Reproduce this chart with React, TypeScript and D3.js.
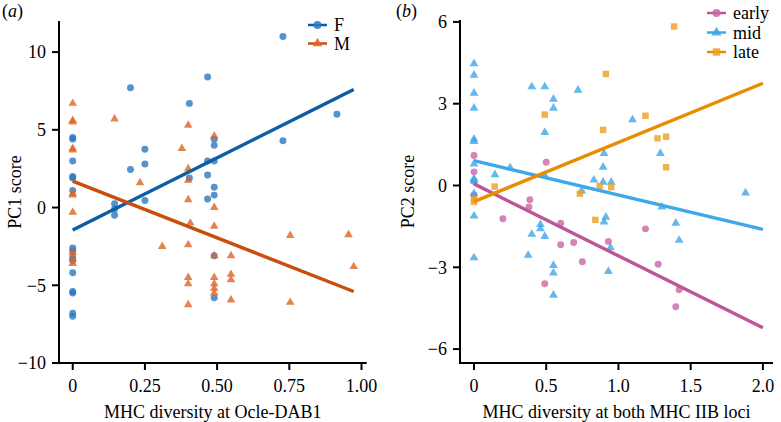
import React from "react";
import * as d3 from "d3";

// ---------- Panel (a) data ----------
const aGroups = ["F", "M"];
const aFx = [0,0,0,0,0,0,0,0,0,0,0,0,0,0,0, 0.145,0.145,0.145, 0.2,0.2, 0.25,0.25,0.25, 0.404,0.404, 0.467,0.467,0.467,0.467, 0.49,0.49,0.49,0.49,0.49,0.49,0.49, 0.728,0.728, 0.915];
const aFy = [4.5,4.4,3.0,2.0,1.9,1.1,-2.6,-2.8,-3.2,-3.4,-4.2,-5.4,-5.5,-6.8,-7.0, 0.25,-0.1,-0.5, 7.7,2.45, 3.75,2.8,0.45, 6.7,1.9, 8.4,3.0,2.1,0.55, 4.4,4.0,3.0,1.3,0.8,-3.1,-5.8, 11.0,4.3, 6.0];
const aMx = [0,0,0,0,0,0,0,0,0,0,0, 0.145, 0.233, 0.31, 0.378, 0.4,0.4,0.4,0.4,0.4,0.4,0.4,0.4, 0.407, 0.49,0.49,0.49,0.49,0.49,0.49,0.49,0.49, 0.548,0.548,0.548,0.548, 0.753,0.753, 0.955, 0.973];
const aMy = [6.7,5.6,5.5,3.8,3.7,0.9,0.8,-0.3,-2.9,-3.3,-3.6, 5.7, 1.6, -2.5, 3.8, 5.3,2.5,1.75,0.5,-2.4,-4.5,-4.9,-6.25, -1.0, 4.6,0.0,-1.2,-3.1,-4.5,-4.9,-5.2,-5.5, -3.1,-4.3,-4.65,-5.95, -1.8,-6.1, -1.75, -3.8];
const aFitIntercept = [-1.45, 1.7];
const aFitSlope = [9.3, -7.3];
const aFitRange = [0, 0.973];
const aXTicks = [0, 0.25, 0.5, 0.75, 1.0];
const aXTickLabels = ["0", "0.25", "0.50", "0.75", "1.00"];
const aYTicks = [-10, -5, 0, 5, 10];

// ---------- Panel (b) data ----------
const bGroups = ["early", "mid", "late"];
const bEarlyX = [0,0,0,0, 0.2, 0.387, 0.38, 0.5, 0.6, 0.6, 0.69, 0.75, 0.49, 1.187, 0.93, 1.275, 1.42, 1.397];
const bEarlyY = [1.1,0.5,0.15,-0.35, -1.22, -0.52, -0.79, 0.85, -1.38, -2.17, -2.09, -2.8, -3.6, -1.59, -2.05, -2.89, -3.82, -4.45];
const bMidX = [0,0,0,0,0,0,0,0,0,0,0,0, 0.145, 0.25, 0.4, 0.49, 0.55, 0.55, 0.49, 0.72, 0.49, 0.46, 0.46, 0.4, 0.49, 0.375, 0.55, 0.55, 0.55, 0.745, 1.097, 0.9, 1.29, 0.894, 0.83, 0.894, 0.95, 1.3, 0.913, 0.9, 1.397, 1.42, 0.945, 0.93, 1.88];
const bMidY = [4.47,4.05,3.39,2.84,1.7,1.62,0.79,0.25,0.18,-0.3,-1.12,-2.65, 0.4, 0.65, 3.62, 3.62, 3.17, 2.84, 1.95, 3.5, 0.37, -1.43, -1.58, -1.79, -1.87, -2.56, -2.93, -3.21, -4.02, -0.2, 2.41, 1.18, 1.18, 0.67, 0.2, 0.12, 0.12, -0.79, -1.16, -1.34, -1.38, -2.01, -2.28, -3.15, -0.27];
const bLateX = [0, 0, 0.143, 0.49, 0.733, 0.913, 1.187, 0.894, 1.27, 1.33, 1.33, 0.87, 0.95, 0.84, 1.385];
const bLateY = [-0.5, -0.6, -0.04, 2.6, -0.3, 4.09, 2.56, 2.04, 1.73, 1.79, 0.67, -0.02, -0.06, -1.26, 5.83];
const bFitIntercept = [0.06, 0.91, -0.59];
const bFitSlope = [-2.64, -1.26, 2.17];
const bFitRange = [0, 2.0];
const bXTicks = [0, 0.5, 1.0, 1.5, 2.0];
const bXTickLabels = ["0", "0.5", "1.0", "1.5", "2.0"];
const bYTicks = [-6, -3, 0, 3, 6];

const FONT = "'Liberation Serif', 'Times New Roman', serif";

const fmtMinus = (v: number) => (v < 0 ? "\u2212" + Math.abs(v) : String(v));

type Series = {
  name: string;
  xs: number[];
  ys: number[];
  shape: d3.SymbolType;
  size: number;
  fill: string;
  line: string;
  intercept: number;
  slope: number;
};

function Panel(props: {
  x: d3.ScaleLinear<number, number>;
  y: d3.ScaleLinear<number, number>;
  xTicks: number[];
  xTickLabels: string[];
  yTicks: number[];
  series: Series[];
  fitRange: number[];
  xTitle: string;
  yTitle: string;
  yTitleX: number;
  tag: string;
  tagX: number;
  legendX: number;
  legendY: number;
  legendStep: number;
}) {
  const { x, y, series } = props;
  const [x0, x1] = x.range();
  const [y0, y1] = y.range();
  return (
    <g>
      {series.map((s) => (
        <g key={s.name}>
          {s.xs.map((v, i) => (
            <path
              key={i}
              d={d3.symbol().type(s.shape).size(s.size)() as string}
              transform={`translate(${x(v)},${y(s.ys[i])})`}
              fill={s.fill}
              fillOpacity={0.8}
            />
          ))}
        </g>
      ))}
      {series.map((s) => {
        const pts: [number, number][] = props.fitRange.map((v) => [x(v), y(s.intercept + s.slope * v)]);
        return (
          <path key={"fit" + s.name} d={d3.line()(pts) as string} stroke={s.line} strokeWidth={3.4} fill="none" />
        );
      })}
      <line x1={x0} x2={x0} y1={y1} y2={y0 + 1} stroke="#000" strokeWidth={2} />
      <line x1={x0 - 1} x2={x1} y1={y0} y2={y0} stroke="#000" strokeWidth={2} />
      {props.yTicks.map((t) => (
        <g key={"yt" + t}>
          <line x1={x0 - 7} x2={x0} y1={y(t)} y2={y(t)} stroke="#000" strokeWidth={2} />
          <text x={x0 - 13} y={y(t)} dy="0.35em" textAnchor="end" fontSize={18} fontFamily={FONT}>
            {fmtMinus(t)}
          </text>
        </g>
      ))}
      {props.xTicks.map((t, i) => (
        <g key={"xt" + t}>
          <line x1={x(t)} x2={x(t)} y1={y0} y2={y0 + 7} stroke="#000" strokeWidth={2} />
          <text x={x(t)} y={y0 + 29} textAnchor="middle" fontSize={18} fontFamily={FONT}>
            {props.xTickLabels[i]}
          </text>
        </g>
      ))}
      <text x={(x0 + x1) / 2} y={y0 + 55} textAnchor="middle" fontSize={18} fontFamily={FONT}>
        {props.xTitle}
      </text>
      <text
        transform={`translate(${props.yTitleX},${(y0 + y1) / 2}) rotate(-90)`}
        textAnchor="middle"
        dy="0.35em"
        fontSize={18}
        fontFamily={FONT}
      >
        {props.yTitle}
      </text>
      <text x={props.tagX} y={17} fontSize={18} fontFamily={FONT}>
        (<tspan fontStyle="italic">{props.tag}</tspan>)
      </text>
      {series.map((s, i) => {
        const ly = props.legendY + i * props.legendStep;
        return (
          <g key={"lg" + s.name}>
            <line x1={props.legendX} x2={props.legendX + 19} y1={ly} y2={ly} stroke={s.line} strokeWidth={2.5} />
            <path
              d={d3.symbol().type(s.shape).size(s.size * 1.3)() as string}
              transform={`translate(${props.legendX + 9.5},${ly})`}
              fill={s.fill}
              fillOpacity={0.85}
            />
            <text x={props.legendX + 26} y={ly} dy="0.35em" fontSize={18} fontFamily={FONT}>
              {s.name}
            </text>
          </g>
        );
      })}
    </g>
  );
}

export default function App() {
  const xa = d3.scaleLinear().domain([-0.0475, 1.018]).range([59, 366.7]);
  const ya = d3.scaleLinear().domain([-10, 12]).range([363, 21]);
  const xb = d3.scaleLinear().domain([-0.097, 2.07]).range([460, 773]);
  const yb = d3.scaleLinear().domain([-6.51, 6.07]).range([363, 20]);

  const seriesA: Series[] = [
    { name: aGroups[0], xs: aFx, ys: aFy, shape: d3.symbolCircle, size: 38, fill: "#2a78bf", line: "#0b5da6", intercept: aFitIntercept[0], slope: aFitSlope[0] },
    { name: aGroups[1], xs: aMx, ys: aMy, shape: d3.symbolTriangle, size: 32, fill: "#de6424", line: "#c94d0c", intercept: aFitIntercept[1], slope: aFitSlope[1] },
  ];
  const seriesB: Series[] = [
    { name: bGroups[0], xs: bEarlyX, ys: bEarlyY, shape: d3.symbolCircle, size: 38, fill: "#c866a2", line: "#bd5596", intercept: bFitIntercept[0], slope: bFitSlope[0] },
    { name: bGroups[1], xs: bMidX, ys: bMidY, shape: d3.symbolTriangle, size: 34, fill: "#3da6e8", line: "#3fa8ea", intercept: bFitIntercept[1], slope: bFitSlope[1] },
    { name: bGroups[2], xs: bLateX, ys: bLateY, shape: d3.symbolSquare, size: 42, fill: "#ee9f22", line: "#e88c00", intercept: bFitIntercept[2], slope: bFitSlope[2] },
  ];

  return (
    <svg width={781} height={422} style={{ display: "block", position: "absolute", left: 0, top: 0, background: "#fff" }}>
      <Panel
        x={xa}
        y={ya}
        xTicks={aXTicks}
        xTickLabels={aXTickLabels}
        yTicks={aYTicks}
        series={seriesA}
        fitRange={aFitRange}
        xTitle="MHC diversity at Ocle-DAB1"
        yTitle="PC1 score"
        yTitleX={15}
        tag="a"
        tagX={2}
        legendX={308}
        legendY={25}
        legendStep={18.5}
      />
      <Panel
        x={xb}
        y={yb}
        xTicks={bXTicks}
        xTickLabels={bXTickLabels}
        yTicks={bYTicks}
        series={seriesB}
        fitRange={bFitRange}
        xTitle="MHC diversity at both MHC IIB loci"
        yTitle="PC2 score"
        yTitleX={408}
        tag="b"
        tagX={396}
        legendX={707}
        legendY={13}
        legendStep={19.5}
      />
    </svg>
  );
}
